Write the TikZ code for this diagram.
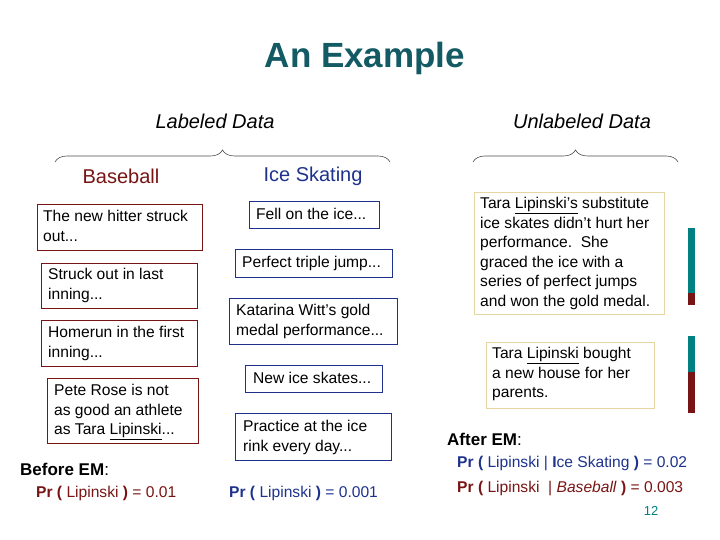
\documentclass[tikz,border=0pt]{standalone}
\usepackage{fontspec}
\setmainfont{Liberation Sans}
\usetikzlibrary{decorations.pathreplacing}
\definecolor{dred}{RGB}{120,20,20}
\definecolor{dblue}{RGB}{30,50,140}
\definecolor{titlec}{RGB}{20,90,100}
\definecolor{tan}{RGB}{230,215,160}
\definecolor{teal}{RGB}{0,128,128}
\begin{document}
\begin{tikzpicture}[x=1pt,y=-1pt,
  txt/.style={font=\fontsize{15.6}{19.5}\selectfont,align=left,anchor=north west,inner sep=0pt},
  rbox/.style={draw=dred,line width=0.8pt},
  bbox/.style={draw=dblue,line width=0.8pt},
  tbox/.style={draw=tan,line width=0.8pt},
  brace/.style={decorate,decoration={brace,amplitude=12pt},line width=0.6pt,draw=black!70}]
\useasboundingbox (0,0) rectangle (720,540);
\node[font=\fontsize{35}{40}\selectfont\bfseries,text=titlec] (title) at (365,58) {An Example};
\node[font=\fontsize{20}{24}\selectfont\itshape] (ld) at (215,121) {Labeled Data};
\node[font=\fontsize{20}{24}\selectfont\itshape] (ud) at (582,121) {Unlabeled Data};
\draw[brace] (55,162) -- (390,162);
\draw[brace] (473,162) -- (678,162);
\node[font=\fontsize{20}{24}\selectfont,text=dred] (bb) at (121,176) {Baseball};
\node[font=\fontsize{20}{24}\selectfont,text=dblue] (is) at (313,176) {Ice Skating};
% left boxes
\draw[rbox] (37,204) rectangle (202,250);
\node[txt] (l1) at (43,210) {The new hitter struck\\out...};
\draw[rbox] (41,263) rectangle (197,308);
\node[txt] (l2) at (48,268) {Struck out in last\\inning...};
\draw[rbox] (41,320) rectangle (197,366);
\node[txt] (l3) at (48,326) {Homerun in the first\\inning...};
\draw[rbox] (47,378) rectangle (198,443);
\node[txt] (l4) at (54,384) {Pete Rose is not\\as good an athlete\\as Tara \underline{Lipinski}...};
% middle boxes
\draw[bbox] (249,201) rectangle (379,228);
\node[txt] (m1) at (256,208) {Fell on the ice...};
\draw[bbox] (235,249) rectangle (392,277);
\node[txt] (m2) at (242,256) {Perfect triple jump...};
\draw[bbox] (229,298) rectangle (397,344);
\node[txt] (m3) at (236,304) {Katarina Witt’s gold\\medal performance...};
\draw[bbox] (245,365) rectangle (382,392);
\node[txt] (m4) at (253,372) {New ice skates...};
\draw[bbox] (235,413) rectangle (391,460);
\node[txt] (m5) at (243,420) {Practice at the ice\\rink every day...};
% right boxes
\draw[tbox] (474,192) rectangle (664,314);
\node[txt] (r1) at (480,197) {Tara \underline{Lipinski’s} substitute\\ice skates didn’t hurt her\\performance.\ \ She\\graced the ice with a\\series of perfect jumps\\and won the gold medal.};
\draw[tbox] (486,342) rectangle (654,408);
\node[txt] (r2) at (492,347) {Tara \underline{Lipinski} bought\\a new house for her\\parents.};
% bars
\fill[teal] (688,228) rectangle (695,293);
\fill[dred] (688,293) rectangle (695,305);
\fill[teal] (688,336) rectangle (695,372);
\fill[dred] (688,372) rectangle (695,413);
% before/after
\node[txt,font=\fontsize{17}{20}\selectfont] (bem) at (20,463) {\textbf{Before EM}:};
\node[txt,text=dred] (p1) at (36,486) {\textbf{Pr ( }Lipinski\textbf{ )} = 0.01};
\node[txt,text=dblue] (p2) at (229,486) {\textbf{Pr ( }Lipinski\textbf{ )} = 0.001};
\node[txt,font=\fontsize{17}{20}\selectfont] (aem) at (447,433) {\textbf{After EM}:};
\node[txt,text=dblue] (p3) at (457,456) {\textbf{Pr ( }Lipinski | \textbf{I}ce Skating\textbf{ )} = 0.02};
\node[txt,text=dred] (p4) at (457,481) {\textbf{Pr ( }Lipinski \ | \textit{Baseball}\textbf{ )} = 0.003};
\node[font=\fontsize{13}{15}\selectfont,text=teal] (pg) at (651,511) {12};
\end{tikzpicture}
\end{document}
